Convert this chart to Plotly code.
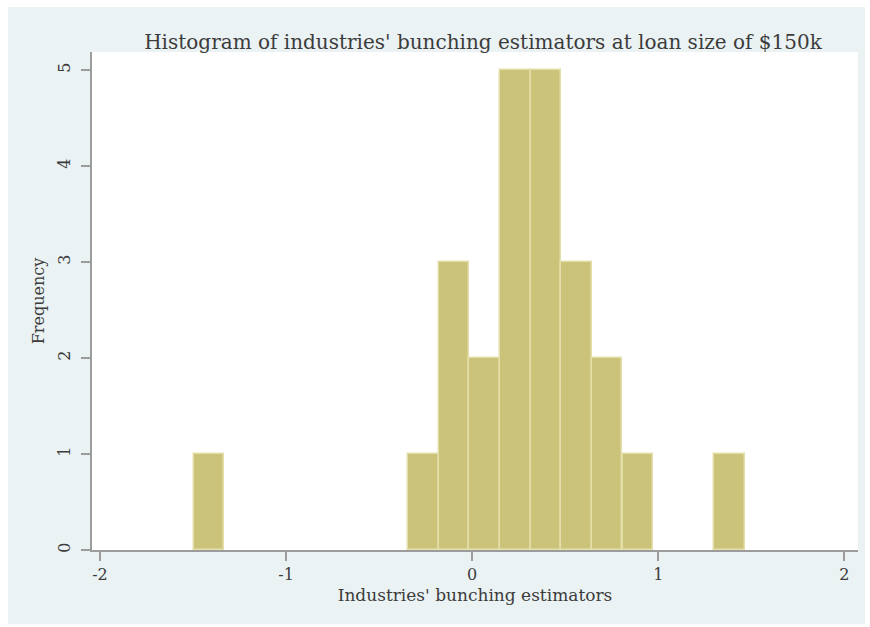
import plotly.graph_objects as go

# Histogram bins (18 equal bins between the smallest and largest estimate)
bin_width = 0.1646
bin_centers = [-1.415, -0.262, -0.098, 0.067, 0.231, 0.396, 0.560, 0.725, 0.890, 1.383]
frequencies = [1, 1, 3, 2, 5, 5, 3, 2, 1, 1]

x_ticks = [-2, -1, 0, 1, 2]
y_ticks = [0, 1, 2, 3, 4, 5]

title_text = "Histogram of industries' bunching estimators at loan size of $150k"
x_title = "Industries' bunching estimators"
y_title = "Frequency"

W, H = 870, 627
L, R, T, B = 92, 12, 52, 77
pw, ph = W - L - R, H - T - B

font_family = "DejaVu Serif, Liberation Serif, serif"
text_color = "#3c3c3c"
axis_color = "#9c9c9c"

fig = go.Figure(
    go.Bar(
        x=bin_centers,
        y=frequencies,
        width=[bin_width] * len(bin_centers),
        marker=dict(color="#CCC37A", line=dict(color="#E4DFAA", width=1.5)),
        hoverinfo="x+y",
    )
)

# Light graph region with a white plot region on top of it
fig.add_shape(
    type="rect", xref="paper", yref="paper", layer="below",
    x0=(8 - L) / pw, x1=(865 - L) / pw,
    y0=(H - B - 624) / ph, y1=(H - B - 7) / ph,
    fillcolor="#EAF2F3", line=dict(width=0),
)
fig.add_shape(
    type="rect", xref="paper", yref="paper", layer="below",
    x0=0, x1=1, y0=0, y1=1,
    fillcolor="white", line=dict(width=0),
)

fig.update_layout(
    width=W, height=H,
    margin=dict(l=L, r=R, t=T, b=B),
    paper_bgcolor="white",
    plot_bgcolor="rgba(0,0,0,0)",
    showlegend=False,
    bargap=0,
    font=dict(family=font_family, color=text_color, size=16),
    title=dict(
        text=title_text,
        x=(483 - L) / pw, xref="paper", xanchor="center",
        y=1 - 42 / H, yanchor="middle",
        font=dict(family=font_family, size=20, color=text_color),
    ),
)

fig.update_xaxes(
    range=[-2.043, 2.073],
    tickvals=x_ticks, ticktext=[str(v) for v in x_ticks],
    ticks="outside", ticklen=9, tickcolor=axis_color, tickwidth=1.5,
    showline=True, linecolor=axis_color, linewidth=2,
    showgrid=False, zeroline=False,
    tickfont=dict(size=16),
    title=dict(text=x_title, font=dict(size=17), standoff=6),
)
fig.update_yaxes(
    range=[0, 5.1875],
    tickvals=y_ticks, ticktext=[str(v) for v in y_ticks],
    tickangle=-90,
    ticks="outside", ticklen=9, tickcolor=axis_color, tickwidth=1.5,
    ticklabelstandoff=5,
    showline=True, linecolor=axis_color, linewidth=2,
    showgrid=False, zeroline=False,
    tickfont=dict(size=16),
    title=dict(text=y_title, font=dict(size=16), standoff=6),
)

fig.write_html("out.html")
